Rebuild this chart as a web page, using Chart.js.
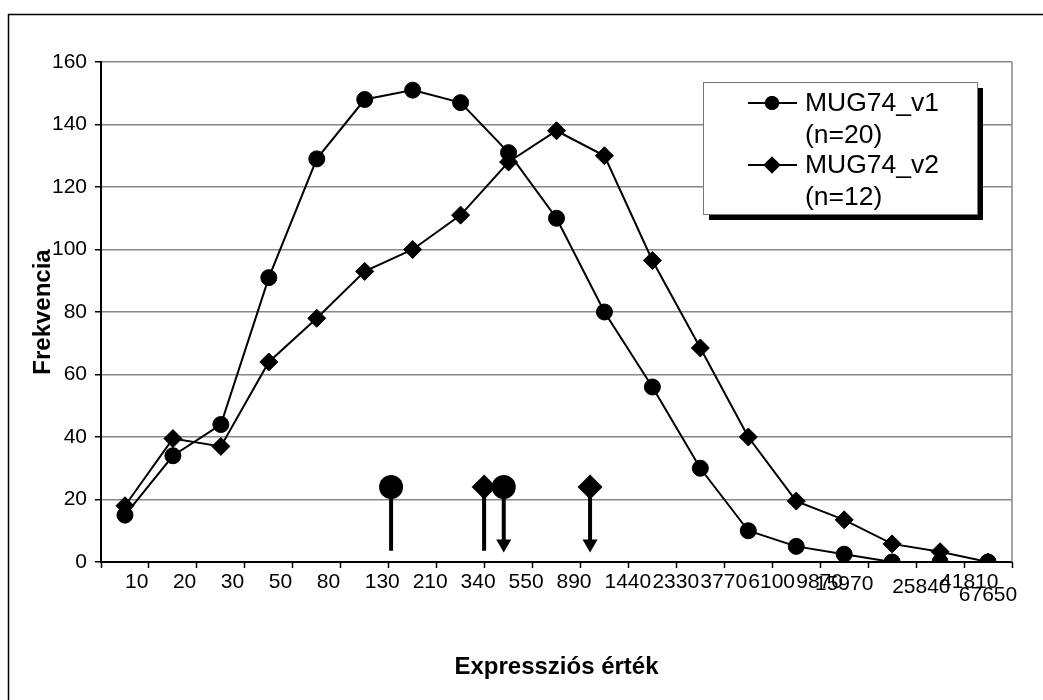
<!DOCTYPE html>
<html>
<head>
<meta charset="utf-8">
<script src="https://cdn.jsdelivr.net/npm/chart.js@4.4.1/dist/chart.umd.min.js"></script>
<style>
  body { margin: 0; background: #fff; }
  canvas { display: block; }
</style>
</head>
<body>
<canvas id="freqChart" width="1043" height="700"></canvas>
<script>
// category labels (expression values)
const categories = ['10', '20', '30', '50', '80', '130', '210', '340', '550', '890',
  '1440', '2330', '3770', '6100', '9870', '15970', '25840', '41810', ['', '67650']];
const v1Values = [15, 34, 44, 91, 129, 148, 151, 147, 131, 110, 80, 56, 30, 10, 5, 2.5, 0, 0, 0];
const v2Values = [18, 39.5, 37, 64, 78, 93, 100, 111, 128, 138, 130, 96.5, 68.5, 40, 19.5, 13.5, 5.8, 3.3, 0];
const yTicks = [0, 20, 40, 60, 80, 100, 120, 140, 160];

// position markers (in category index units) and their heights
const v1Marks = [5.55, 7.9];
const v2Marks = [7.49, 9.7];
const markTop = 24;
const markBase = 3.6;
const arrowBase = 5.8;

const legendItems = [
  { lines: ['MUG74_v1', '(n=20)'], style: 'circle' },
  { lines: ['MUG74_v2', '(n=12)'], style: 'rectRot' }
];

const FONT = '"Liberation Sans", Arial, sans-serif';

function marker(x, shape, arrow) {
  return {
    type: 'line',
    xAxisID: 'xv',
    data: [{ x: x, y: markTop }, { x: x, y: arrow ? arrowBase : markBase }],
    borderColor: '#000',
    borderWidth: 4,
    backgroundColor: '#000',
    pointBackgroundColor: '#000',
    pointBorderColor: '#000',
    pointBorderWidth: 0,
    pointStyle: [shape, 'triangle'],
    pointRotation: [0, 180],
    pointRadius: [shape === 'circle' ? 12 : 12.5, arrow ? 8.7 : 0],
    tension: 0,
    fill: false
  };
}

const framePlugin = {
  id: 'frame',
  beforeDraw(chart) {
    const ctx = chart.ctx;
    ctx.save();
    ctx.fillStyle = '#fff';
    ctx.fillRect(0, 0, chart.width, chart.height);
    ctx.strokeStyle = '#000';
    ctx.lineWidth = 1.5;
    ctx.beginPath();
    ctx.moveTo(8.5, chart.height);
    ctx.lineTo(8.5, 14.5);
    ctx.lineTo(chart.width, 14.5);
    ctx.stroke();
    ctx.restore();

    // a few crowded labels at the right end sit centred / slightly lower
    const items = chart.scales.x.getLabelItems(chart.chartArea);
    const shifts = { 15: 2, 16: 5 };
    items.forEach((it, i) => {
      if (it._tweaked) return;
      it._tweaked = true;
      if (i === 15 || i === 18) it.options.textAlign = 'center';
      if (shifts[i]) it.options.translation[1] += shifts[i];
    });
  },
  beforeDatasetsDraw(chart) {
    const a = chart.chartArea;
    const ctx = chart.ctx;
    ctx.save();
    ctx.strokeStyle = '#888';
    ctx.lineWidth = 1.5;
    ctx.beginPath();
    ctx.moveTo(a.right, a.top);
    ctx.lineTo(a.right, a.bottom);
    ctx.stroke();
    ctx.restore();
  }
};

const legendPlugin = {
  id: 'boxLegend',
  afterDraw(chart) {
    const ctx = chart.ctx;
    const bx = 703, by = 82, bw = 274, bh = 132;
    ctx.save();
    ctx.fillStyle = '#000';
    ctx.fillRect(bx + 6, by + 6, bw, bh);
    ctx.fillStyle = '#fff';
    ctx.fillRect(bx, by, bw, bh);
    ctx.strokeStyle = '#777';
    ctx.lineWidth = 1;
    ctx.strokeRect(bx + 0.5, by + 0.5, bw, bh);
    ctx.font = '26.5px ' + FONT;
    ctx.textBaseline = 'alphabetic';
    legendItems.forEach((item, i) => {
      const ly = 103 + i * 62;
      ctx.strokeStyle = '#000';
      ctx.lineWidth = 2;
      ctx.beginPath();
      ctx.moveTo(748, ly);
      ctx.lineTo(797, ly);
      ctx.stroke();
      ctx.fillStyle = '#000';
      Chart.helpers.drawPoint(ctx, {
        pointStyle: item.style, radius: item.style === 'circle' ? 7 : 8.5,
        rotation: 0, borderWidth: 0
      }, 772, ly);
      ctx.fill();
      item.lines.forEach((t, j) => {
        ctx.fillText(t, 805, ly + 8 + j * 32);
      });
    });
    ctx.restore();
  }
};

new Chart(document.getElementById('freqChart'), {
  type: 'line',
  data: {
    labels: categories,
    datasets: [
      marker(v1Marks[0], 'circle', false),
      marker(v2Marks[0], 'rectRot', false),
      marker(v1Marks[1], 'circle', true),
      marker(v2Marks[1], 'rectRot', true),
      {
        label: 'MUG74_v1 (n=20)',
        data: v1Values,
        borderColor: '#000',
        borderWidth: 2,
        backgroundColor: '#000',
        pointStyle: 'circle',
        pointRadius: 8,
        pointBorderWidth: 1,
        pointBorderColor: '#000',
        tension: 0
      },
      {
        label: 'MUG74_v2 (n=12)',
        data: v2Values,
        borderColor: '#000',
        borderWidth: 2,
        backgroundColor: '#000',
        pointStyle: 'rectRot',
        pointRadius: 9,
        pointBorderWidth: 1,
        pointBorderColor: '#000',
        tension: 0
      }
    ]
  },
  options: {
    responsive: false,
    animation: false,
    devicePixelRatio: 1,
    layout: { padding: { top: 62, right: 31, left: 0, bottom: 0 } },
    plugins: {
      legend: { display: false },
      tooltip: { enabled: false }
    },
    scales: {
      x: {
        type: 'category',
        offset: true,
        afterFit(s) { s.height = 138; s.paddingRight = 0; s.paddingLeft = 0; },
        border: { color: '#000', width: 2 },
        grid: { offset: true, drawOnChartArea: false, tickLength: 6, tickColor: '#000', tickWidth: 1.5 },
        ticks: {
          color: '#000', align: 'start', maxRotation: 0, autoSkip: false, padding: 8,
          font: { family: FONT, size: 21, lineHeight: '13px' }
        },
        title: {
          display: true, text: 'Expressziós érték', color: '#000',
          font: { family: FONT, size: 24, weight: 'bold' },
          padding: { top: 0, bottom: 18 }
        }
      },
      xv: {
        type: 'linear',
        display: false,
        min: -0.5,
        max: 18.5
      },
      y: {
        min: 0,
        max: 160,
        afterFit(s) { s.width = 101; },
        afterBuildTicks(s) { s.ticks = yTicks.map(v => ({ value: v })); },
        border: { color: '#000', width: 2 },
        grid: { color: '#888', lineWidth: 1.5, tickLength: 6, tickColor: '#000', tickWidth: 1.5 },
        ticks: { color: '#000', padding: 8, font: { family: FONT, size: 21 } },
        title: {
          display: true, text: 'Frekvencia', color: '#000',
          font: { family: FONT, size: 24, weight: 'bold' },
          padding: { top: 29, bottom: 0 }
        }
      }
    }
  },
  plugins: [framePlugin, legendPlugin]
});
</script>
</body>
</html>
